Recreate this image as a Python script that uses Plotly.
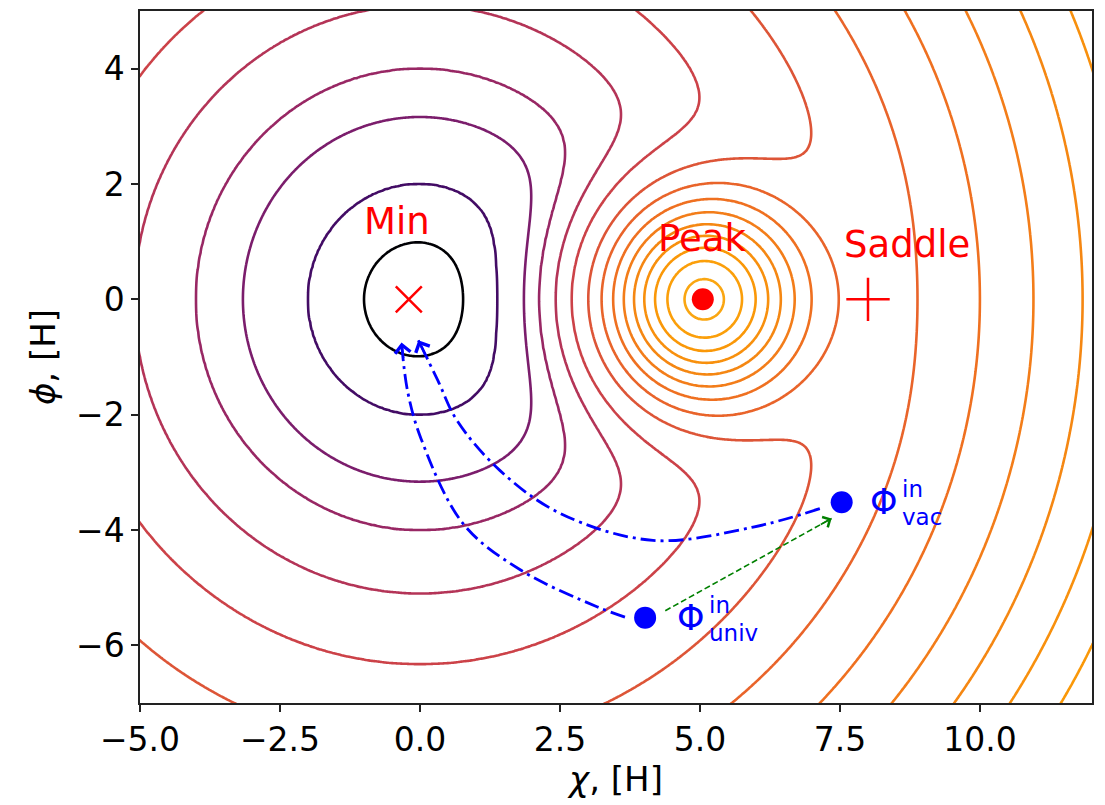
import numpy as np
import plotly.graph_objects as go

# ---------------- axes ----------------
X_RANGE = [-5.0, 12.0]
Y_RANGE = [-7.0, 5.0]
X_TICKS = [-5.0, -2.5, 0.0, 2.5, 5.0, 7.5, 10.0]
X_TICK_TEXT = ["−5.0", "−2.5", "0.0", "2.5", "5.0", "7.5", "10.0"]
Y_TICKS = [-6, -4, -2, 0, 2, 4]
Y_TICK_TEXT = ["−6", "−4", "−2", "0", "2", "4"]

# ---------------- potential (bowl + bump) ----------------
PEAK_CENTER_X = 5.0
PEAK_CENTER_Y = 0.0
PEAK_HEIGHT = 203.0
PEAK_WIDTH = 1.2

# contour levels seen in the picture
LEVELS = [1, 4, 10, 16, 26, 40, 60, 80, 100, 120, 140, 160, 180, 200, 220]
COLOR_TOP_LEVEL = 845.0   # log colour normalisation top

# ---------------- marked points ----------------
MIN_X, MIN_Y = [-0.2], [0.0]
PEAK_X, PEAK_Y = [5.05], [0.0]
SADDLE_X, SADDLE_Y = [8.0], [0.0]
UNIV_X, UNIV_Y = [4.02], [-5.52]
VAC_X, VAC_Y = [7.53], [-3.52]

# ---------------- trajectories ----------------
UNIV_PATH_X = [3.66, 3.16, 1.79, 0.77, 0.02, -0.22, -0.33]
UNIV_PATH_Y = [-5.51, -5.33, -4.69, -3.89, -2.42, -1.60, -0.75]
VAC_PATH_X = [7.14, 5.95, 4.16, 2.5, 1.43, 0.66, 0.32, -0.03]
VAC_PATH_Y = [-3.63, -3.95, -4.18, -3.71, -2.97, -2.10, -1.41, -0.71]
GREEN_X = [4.38, 7.35]
GREEN_Y = [-5.40, -3.80]

FONT = "DejaVu Sans"

# ---------------- field ----------------
GRID_X = np.arange(-6.0, 13.0001, 0.04)
GRID_Y = np.arange(-8.0, 6.0001, 0.04)
CX, CY = np.meshgrid(GRID_X, GRID_Y)
V = CX ** 2 + CY ** 2 + PEAK_HEIGHT * np.exp(
    -((CX - PEAK_CENTER_X) ** 2 + (CY - PEAK_CENTER_Y) ** 2) / (2 * PEAK_WIDTH ** 2))

lev = np.array(LEVELS, dtype=float)
idx = np.arange(len(LEVELS), dtype=float)
ZT = np.interp(V, lev, idx)
ZT = np.where(V < lev[0], (V - lev[0]) / (lev[1] - lev[0]), ZT)
ZT = np.where(V > lev[-1], idx[-1] + (V - lev[-1]) / (lev[-1] - lev[-2]), ZT)

INFERNO = ['#000004', '#1b0c41', '#4a0c6b', '#781c6d', '#a52c60',
           '#cf4446', '#ed6925', '#fb9b06', '#f7d13d', '#fcffa4']


def inferno(f):
    pos = np.linspace(0, 1, len(INFERNO))
    rgb = np.array([[int(h[i:i + 2], 16) for i in (1, 3, 5)] for h in INFERNO], dtype=float)
    c = [np.interp(f, pos, rgb[:, j]) for j in range(3)]
    return 'rgb(%d,%d,%d)' % tuple(int(round(v)) for v in c)


n = len(LEVELS)
fracs = [np.log(L) / np.log(COLOR_TOP_LEVEL) for L in LEVELS]
colorscale = [[k / (n - 1), inferno(fracs[k])] for k in range(n)]

fig = go.Figure()
fig.add_trace(go.Contour(
    x=GRID_X, y=GRID_Y, z=ZT, zmin=0, zmax=n - 1, zauto=False,
    autocontour=False,
    contours=dict(start=0, end=n - 1, size=1, coloring='lines'),
    colorscale=colorscale, showscale=False,
    line=dict(width=2.6, smoothing=1), hoverinfo='skip'))

BLUE = '#0000ff'
DASHDOT = '15px,5px,3px,5px'
fig.add_trace(go.Scatter(x=UNIV_PATH_X, y=UNIV_PATH_Y, mode='lines',
                         line=dict(color=BLUE, width=2.8, dash=DASHDOT, shape='spline', smoothing=1),
                         hoverinfo='skip'))
fig.add_trace(go.Scatter(x=VAC_PATH_X, y=VAC_PATH_Y, mode='lines',
                         line=dict(color=BLUE, width=2.8, dash=DASHDOT, shape='spline', smoothing=1),
                         hoverinfo='skip'))
fig.add_trace(go.Scatter(x=GREEN_X, y=GREEN_Y, mode='lines',
                         line=dict(color='#008000', width=1.6, dash='6px,3px'),
                         hoverinfo='skip'))

# markers
fig.add_trace(go.Scatter(x=MIN_X, y=MIN_Y, mode='markers',
                         marker=dict(symbol='x-thin', size=26, line=dict(color='red', width=2.5)),
                         hoverinfo='skip'))
fig.add_trace(go.Scatter(x=SADDLE_X, y=SADDLE_Y, mode='markers',
                         marker=dict(symbol='cross-thin', size=31, line=dict(color='red', width=2.5)),
                         hoverinfo='skip'))
fig.add_trace(go.Scatter(x=PEAK_X, y=PEAK_Y, mode='markers',
                         marker=dict(symbol='circle', size=22, color='red'), hoverinfo='skip'))
fig.add_trace(go.Scatter(x=UNIV_X + VAC_X, y=UNIV_Y + VAC_Y, mode='markers',
                         marker=dict(symbol='circle', size=22, color=BLUE), hoverinfo='skip'))

annotations = []


def arrow_head(px, py, color, width=2, size=1.5, back=0.3):
    dx = px[-1] - px[-2]
    dy = py[-1] - py[-2]
    L = np.hypot(dx, dy)
    annotations.append(dict(x=px[-1], y=py[-1], ax=px[-1] - back * dx / L, ay=py[-1] - back * dy / L,
                            xref='x', yref='y', axref='x', ayref='y', text='', showarrow=True,
                            arrowhead=4, arrowsize=size, arrowwidth=width, arrowcolor=color, standoff=0))


arrow_head(UNIV_PATH_X, UNIV_PATH_Y, BLUE)
arrow_head(VAC_PATH_X, VAC_PATH_Y, BLUE)
arrow_head(GREEN_X, GREEN_Y, '#008000', width=1.5, size=1.5, back=0.25)

# labels
for txt, x, y in [("Min", -0.41, 1.35), ("Peak", 5.04, 1.05), ("Saddle", 8.69, 0.95)]:
    annotations.append(dict(x=x, y=y, xref='x', yref='y', text=txt, showarrow=False,
                            xanchor='center', yanchor='middle',
                            font=dict(family=FONT, size=37, color='red')))

for (px, py, sub) in [(UNIV_X[0] + 0.53, UNIV_Y[0], "univ"), (VAC_X[0] + 0.47, VAC_Y[0], "vac")]:
    annotations.append(dict(x=px, y=py, xref='x', yref='y', text="Φ", showarrow=False,
                            xanchor='left', yanchor='middle',
                            font=dict(family=FONT, size=35, color=BLUE)))
    annotations.append(dict(x=px, y=py, xref='x', yref='y', text="in", showarrow=False,
                            xanchor='left', yanchor='middle', xshift=32, yshift=13,
                            font=dict(family=FONT, size=23, color=BLUE)))
    annotations.append(dict(x=px, y=py, xref='x', yref='y', text=sub, showarrow=False,
                            xanchor='left', yanchor='middle', xshift=32, yshift=-15,
                            font=dict(family=FONT, size=23, color=BLUE)))

axis_common = dict(showgrid=False, zeroline=False, showline=True, mirror=True,
                   linecolor='#222222', linewidth=1.5, ticks='outside', ticklen=7,
                   tickwidth=1.5, tickcolor='#222222',
                   tickfont=dict(family=FONT, size=33, color='black'))

fig.update_layout(
    width=1105, height=805,
    margin=dict(l=140, r=13, t=9, b=102),
    paper_bgcolor='white', plot_bgcolor='white',
    showlegend=False,
    annotations=annotations,
    xaxis=dict(range=X_RANGE, tickvals=X_TICKS, ticktext=X_TICK_TEXT,
               title=dict(text="<i>χ</i>, [H]", font=dict(family=FONT, size=34, color='black'),
                          standoff=2),
               **axis_common),
    yaxis=dict(range=Y_RANGE, tickvals=Y_TICKS, ticktext=Y_TICK_TEXT,
               title=dict(text="<i>ϕ</i>, [H]", font=dict(family=FONT, size=34, color='black'),
                          standoff=10),
               **axis_common),
)

fig.write_html("out.html")
